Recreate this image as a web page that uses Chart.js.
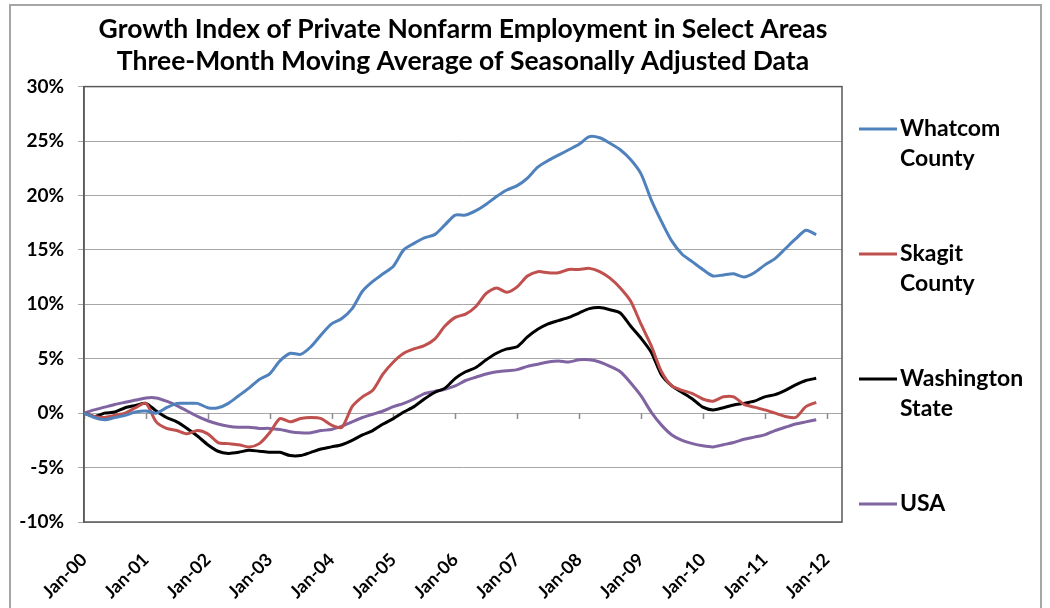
<!DOCTYPE html>
<html>
<head>
<meta charset="utf-8">
<script src="https://cdn.jsdelivr.net/npm/chart.js@4.4.0/dist/chart.umd.min.js"></script>
<style>
  html, body { margin: 0; padding: 0; background: #fff; }
  #chart { display: block; }
</style>
</head>
<body>
<canvas id="chart" width="1050" height="608"></canvas>
<script>
const titleLines = [
  'Growth Index of Private Nonfarm Employment in Select Areas',
  'Three-Month Moving Average of Seasonally Adjusted Data'
];

// months since Jan-00 (read every second month)
const months = [0, 2, 4, 6, 8, 10, 12, 14, 16, 18, 20, 22, 24, 26, 28, 30, 32, 34, 36, 38,
  40, 42, 44, 46, 48, 50, 52, 54, 56, 58, 60, 62, 64, 66, 68, 70, 72, 74, 76, 78,
  80, 82, 84, 86, 88, 90, 92, 94, 96, 98, 100, 102, 104, 106, 108, 110, 112, 114, 116, 118,
  120, 122, 124, 126, 128, 130, 132, 134, 136, 138, 140, 142];

const whatcom = [0, -0.4, -0.6, -0.4, -0.2, 0.1, 0.2, 0.0, 0.5, 0.9, 0.9, 0.9, 0.5, 0.5, 0.9, 1.6, 2.3, 3.1, 3.6, 4.8,
  5.5, 5.4, 6.1, 7.2, 8.2, 8.7, 9.6, 11.2, 12.1, 12.8, 13.5, 15.0, 15.6, 16.1, 16.4, 17.3, 18.2, 18.2, 18.6, 19.2,
  19.9, 20.5, 20.9, 21.6, 22.6, 23.2, 23.7, 24.2, 24.7, 25.4, 25.3, 24.8, 24.2, 23.3, 22.0, 19.6, 17.6, 15.8, 14.6, 13.9,
  13.2, 12.6, 12.7, 12.8, 12.5, 12.9, 13.6, 14.2, 15.1, 16.0, 16.8, 16.4];

const skagit = [0, -0.3, -0.4, -0.2, 0.0, 0.5, 0.9, -0.8, -1.4, -1.6, -1.9, -1.6, -1.9, -2.7, -2.8, -2.9, -3.1, -2.8, -1.8, -0.5,
  -0.8, -0.5, -0.4, -0.5, -1.1, -1.3, 0.6, 1.5, 2.1, 3.6, 4.7, 5.5, 5.9, 6.2, 6.8, 8.0, 8.8, 9.1, 9.8, 11.0,
  11.5, 11.1, 11.6, 12.6, 13.0, 12.9, 12.9, 13.2, 13.2, 13.3, 13.0, 12.4, 11.5, 10.3, 8.2, 6.2, 3.8, 2.5, 2.1, 1.8,
  1.3, 1.1, 1.5, 1.5, 0.8, 0.55, 0.3, 0.0, -0.3, -0.4, 0.6, 1.0];

const washington = [0, -0.3, 0.0, 0.1, 0.5, 0.7, 0.9, 0.2, -0.4, -0.8, -1.4, -2.1, -2.9, -3.5, -3.7, -3.6, -3.4, -3.5, -3.6, -3.6,
  -3.9, -3.9, -3.6, -3.3, -3.1, -2.9, -2.5, -2.0, -1.6, -1.0, -0.5, 0.1, 0.6, 1.3, 1.9, 2.3, 3.2, 3.8, 4.2, 4.9,
  5.5, 5.9, 6.1, 7.0, 7.7, 8.2, 8.5, 8.8, 9.2, 9.6, 9.7, 9.5, 9.2, 8.0, 6.9, 5.6, 3.5, 2.5, 1.9, 1.3,
  0.55, 0.3, 0.5, 0.75, 0.9, 1.1, 1.5, 1.7, 2.1, 2.6, 3.0, 3.2];

const usa = [0, 0.3, 0.55, 0.8, 1.0, 1.2, 1.4, 1.4, 1.1, 0.7, 0.2, -0.3, -0.7, -1.0, -1.2, -1.3, -1.3, -1.4, -1.4, -1.5,
  -1.7, -1.8, -1.8, -1.6, -1.5, -1.2, -0.8, -0.4, -0.1, 0.2, 0.6, 0.9, 1.3, 1.8, 2.0, 2.2, 2.5, 3.0, 3.3, 3.6,
  3.8, 3.9, 4.0, 4.3, 4.5, 4.7, 4.8, 4.7, 4.9, 4.9, 4.7, 4.3, 3.8, 2.8, 1.6, 0.1, -1.1, -2.0, -2.5, -2.8,
  -3.0, -3.1, -2.9, -2.7, -2.4, -2.2, -2.0, -1.6, -1.3, -1.0, -0.8, -0.6];

const seriesNames = [['Whatcom', 'County'], ['Skagit', 'County'], ['Washington', 'State'], ['USA']];
const seriesColors = ['#4f81bd', '#c0504d', '#000000', '#8064a2'];
const seriesValues = [whatcom, skagit, washington, usa];

const yearLabels = ['Jan-00', 'Jan-01', 'Jan-02', 'Jan-03', 'Jan-04', 'Jan-05', 'Jan-06',
  'Jan-07', 'Jan-08', 'Jan-09', 'Jan-10', 'Jan-11', 'Jan-12'];

const fontFamily = 'Lato, "Open Sans", sans-serif';

// outer frame, plot border, tick marks on the 0% line
const decorPlugin = {
  id: 'decor',
  beforeDraw(chart) {
    const ctx = chart.ctx;
    ctx.save();
    ctx.strokeStyle = '#a6a6a6';
    ctx.lineWidth = 2;
    ctx.strokeRect(10, 5, 1031, 640);
    ctx.restore();
  },
  beforeDatasetsDraw(chart) {
    const ctx = chart.ctx;
    const a = chart.chartArea;
    const xs = chart.scales.x, ys = chart.scales.y;
    const y0 = Math.round(ys.getPixelForValue(0));
    ctx.save();
    ctx.strokeStyle = '#8c8c8c';
    ctx.lineWidth = 1.5;
    ctx.beginPath();
    xs.ticks.forEach(t => {
      const px = Math.round(xs.getPixelForValue(t.value)) + 0.5;
      ctx.moveTo(px, y0);
      ctx.lineTo(px, y0 + 6);
    });
    ctx.stroke();
    ctx.strokeStyle = '#595959';
    ctx.lineWidth = 1.5;
    ctx.strokeRect(a.left, a.top, a.right - a.left, a.bottom - a.top);
    ctx.restore();
  }
};

// legend at the right, labels on two lines
const sideLegend = {
  id: 'sideLegend',
  afterDraw(chart) {
    const ctx = chart.ctx;
    const left = chart.chartArea.right + 17;
    const top = 129, gap = 125, lineH = 30;
    ctx.save();
    ctx.font = 'bold 23px ' + fontFamily;
    ctx.textBaseline = 'middle';
    ctx.textAlign = 'left';
    chart.data.datasets.forEach((ds, i) => {
      const y = top + i * gap;
      ctx.strokeStyle = ds.borderColor;
      ctx.lineWidth = 3;
      ctx.beginPath();
      ctx.moveTo(left, y);
      ctx.lineTo(left + 38, y);
      ctx.stroke();
      ctx.fillStyle = '#000';
      seriesNames[i].forEach((txt, j) => ctx.fillText(txt, left + 41, y + j * lineH));
    });
    ctx.restore();
  }
};

new Chart(document.getElementById('chart'), {
  type: 'line',
  data: {
    datasets: seriesValues.map((vals, i) => ({
      label: seriesNames[i].join(' '),
      data: vals.map((v, k) => ({ x: months[k], y: v })),
      borderColor: seriesColors[i],
      borderWidth: 3,
      pointRadius: 0,
      tension: 0.25,
      fill: false
    }))
  },
  options: {
    responsive: false,
    animation: false,
    layout: { padding: { left: 0, right: 208, top: 0, bottom: 0 } },
    plugins: {
      legend: { display: false },
      tooltip: { enabled: false },
      title: {
        display: true,
        fullSize: false,
        text: titleLines,
        color: '#000',
        font: { family: fontFamily, size: 26.5, weight: 'bold', lineHeight: 1.2 },
        padding: { top: 14, bottom: 9 }
      }
    },
    scales: {
      x: {
        type: 'linear',
        min: 0,
        max: 147,
        afterFit: s => { s.height = 86; },
        grid: { display: false },
        border: { display: false },
        ticks: {
          stepSize: 12,
          includeBounds: false,
          autoSkip: false,
          minRotation: 45,
          maxRotation: 45,
          padding: 19,
          color: '#000',
          font: { family: fontFamily, size: 18, weight: 'bold' },
          callback: v => yearLabels[Math.round(v / 12)]
        }
      },
      y: {
        min: -10,
        max: 30,
        afterFit: s => { s.width = 84; },
        grid: { color: '#a6a6a6', lineWidth: 1, tickLength: 6 },
        border: { color: '#595959', width: 1.5 },
        ticks: {
          stepSize: 5,
          padding: 14,
          color: '#000',
          font: { family: fontFamily, size: 19, weight: 'bold' },
          callback: v => v + '%'
        }
      }
    }
  },
  plugins: [decorPlugin, sideLegend]
});
</script>
</body>
</html>
